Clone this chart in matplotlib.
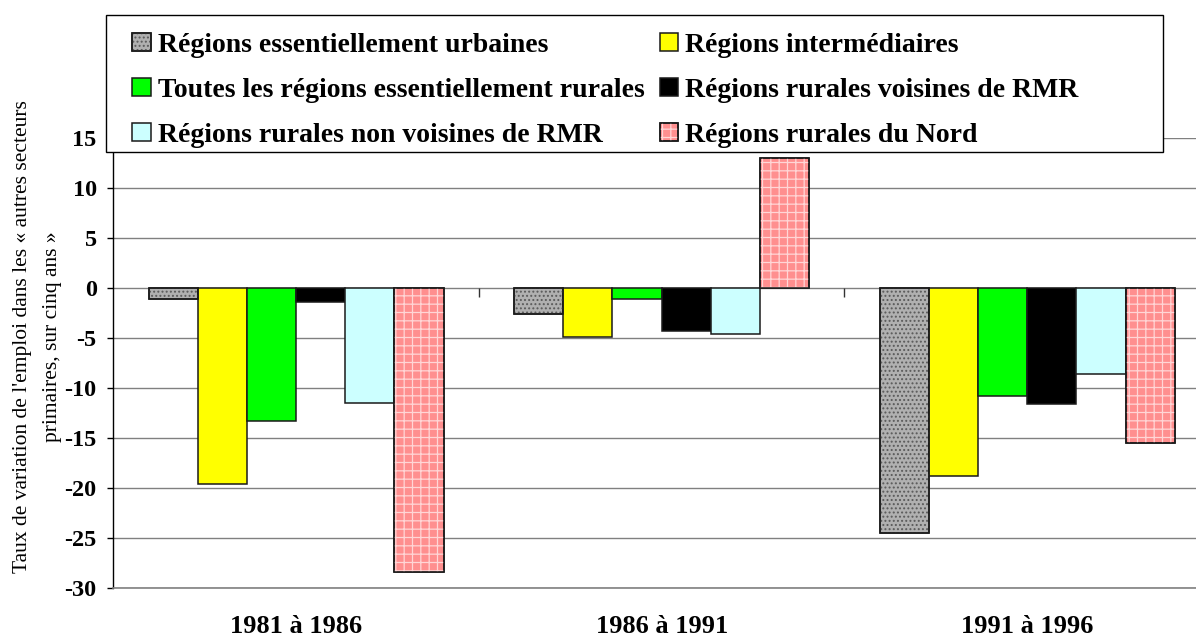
import numpy as np
import matplotlib
matplotlib.use('Agg')
from matplotlib import pyplot as plt
from matplotlib.patches import Rectangle
from matplotlib.legend_handler import HandlerTuple

periods = ['1981 à 1986', '1986 à 1991', '1991 à 1996']

urbaines = [-1.1, -2.6, -24.5]
intermediaires = [-19.6, -4.9, -18.8]
toutes_rurales = [-13.3, -1.1, -10.8]
voisines_rmr = [-1.4, -4.3, -11.6]
non_voisines_rmr = [-11.5, -4.6, -8.6]
nord = [-28.4, 13.0, -15.5]

series = [
    ('Régions essentiellement urbaines', urbaines),
    ('Régions intermédiaires', intermediaires),
    ('Toutes les régions essentiellement rurales', toutes_rurales),
    ('Régions rurales voisines de RMR', voisines_rmr),
    ('Régions rurales non voisines de RMR', non_voisines_rmr),
    ('Régions rurales du Nord', nord),
]

# face colour, hatch, hatch colour
styles = [
    ('#b0b0b0', '....', '#5a5a5a'),
    ('#ffff00', None, None),
    ('#00ff00', None, None),
    ('#000000', None, None),
    ('#ccffff', None, None),
    ('#ff8f8f', '++', '#ffd6d6'),
]

plt.rcParams['font.family'] = ['Liberation Serif', 'DejaVu Serif']
plt.rcParams['hatch.linewidth'] = 0.9
plt.rcParams['axes.unicode_minus'] = False

W, H = 1196, 639
fig = plt.figure(figsize=(W / 100, H / 100), dpi=100)
# plot area runs past the right edge of the picture, like the original
ax = fig.add_axes([113.3 / W, 1 - 587.7 / H, (1210 - 113.3) / W, (587.7 - 137.7) / H])

x = np.arange(len(periods))
bw = 0.1345
handles = {}
for i, (label, vals) in enumerate(series):
    face, hatch, hcol = styles[i]
    pos = x + (i - 2.5) * bw
    bars = ax.bar(pos, vals, bw, color=face, edgecolor='#1a1a1a', linewidth=1.1,
                  label=label, zorder=3)
    h = bars.patches[0]
    if hatch:
        over = ax.bar(pos, vals, bw, color='none', edgecolor=hcol, hatch=hatch,
                      linewidth=0, zorder=4)
        rim = ax.bar(pos, vals, bw, color='none', edgecolor='#1a1a1a', linewidth=1.1, zorder=5)
        h = (bars.patches[0], over.patches[0], rim.patches[0])
    handles[label] = h

ax.set_xlim(-0.5, 2.5)
ax.set_ylim(-30, 15)
ax.set_yticks(np.arange(-30, 16, 5))
ax.grid(axis='y', color='#808080', linewidth=1.0, zorder=0)
ax.set_axisbelow(True)

# category separators on the zero line
ax.vlines([0.5, 1.5], -0.9, 0, color='#333333', linewidth=1.0, zorder=2)

for s in ['top', 'right']:
    ax.spines[s].set_visible(False)
ax.spines['left'].set_color('black')
ax.spines['left'].set_linewidth(1.0)
ax.spines['bottom'].set_color('#808080')
ax.spines['bottom'].set_linewidth(1.2)

ax.set_xticks(x)
ax.set_xticklabels(periods, fontsize=19, fontweight='bold')
ax.tick_params(axis='x', length=0, pad=20)
ax.tick_params(axis='y', direction='out', length=4, width=1, pad=8, labelsize=17.5)
for t in ax.get_yticklabels():
    t.set_fontweight('bold')

fig.text(37.5 / W, 1 - 337 / H,
         "Taux de variation de l'emploi dans les « autres secteurs\nprimaires, sur cinq ans »",
         rotation=90, ha='center', va='center', multialignment='center',
         fontsize=15.5, linespacing=1.8)

# legend box
box = Rectangle((105.7 / W, 1 - 151.7 / H), (1163 - 105.7) / W, (151.7 - 15) / H,
                transform=fig.transFigure, facecolor='white', edgecolor='black',
                linewidth=1.0, zorder=4)
fig.patches.append(box)

order = [0, 2, 4, 1, 3, 5]
labels = [series[k][0] for k in order]
leg = fig.legend([handles[l] for l in labels], labels, ncol=2,
                 loc='upper left', bbox_to_anchor=(126.7 / W, 1 - 27 / H),
                 bbox_transform=fig.transFigure, frameon=False, borderaxespad=0,
                 prop={'weight': 'bold', 'size': 20},
                 handlelength=0.68, handleheight=0.61, handletextpad=0.24,
                 columnspacing=0.54, labelspacing=0.72, borderpad=0.2,
                 handler_map={tuple: HandlerTuple(ndivide=1, pad=0)})
leg.set_zorder(6)

fig.savefig('out.png', dpi=100)
